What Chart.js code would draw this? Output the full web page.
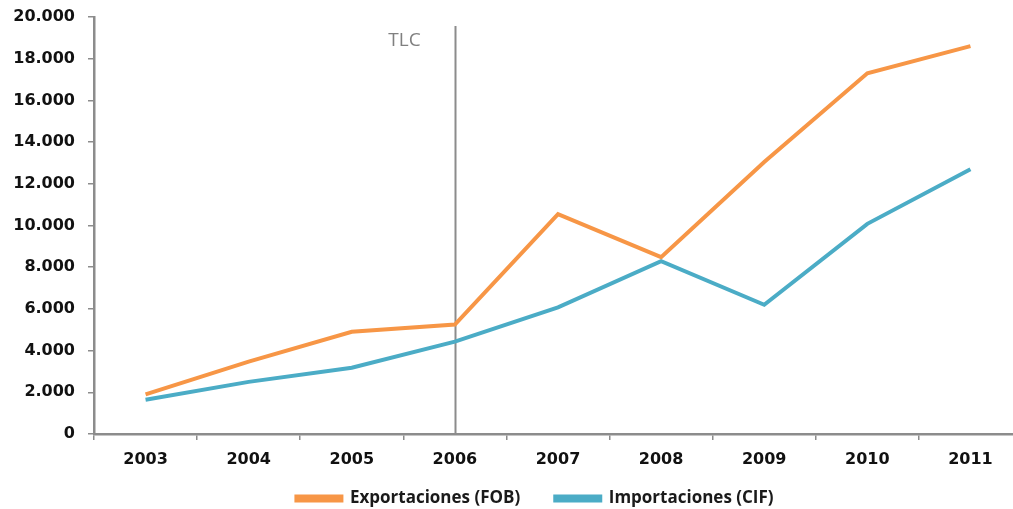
<!DOCTYPE html>
<html>
<head>
<meta charset="utf-8">
<script src="https://cdn.jsdelivr.net/npm/chart.js@4/dist/chart.umd.min.js"></script>
<style>
  html, body { margin: 0; padding: 0; background: #fff; overflow: hidden; }
  #wrap { width: 1022px; height: 538px; }
</style>
</head>
<body>
<div id="wrap"><canvas id="c" width="1022" height="538"></canvas></div>
<script>
const years = ['2003', '2004', '2005', '2006', '2007', '2008', '2009', '2010', '2011'];
const exportaciones = [1900, 3470, 4900, 5250, 10550, 8480, 13050, 17300, 18600];
const importaciones = [1640, 2500, 3180, 4430, 6070, 8290, 6200, 10080, 12700];
const markerYear = '2006';
const markerLabel = 'TLC';
const yMax = 20000;
const yStep = 2000;

function fmt(v) {
  return String(v).replace(/\B(?=(\d{3})+(?!\d))/g, '.');
}

const axisGray = '#8c8c8c';

const tlcPlugin = {
  id: 'tlc',
  afterLayout(chart) {
    const lg = chart.legend;
    if (lg) {
      lg.left += 24;
      lg.right += 24;
      lg.top -= 21;
      lg.bottom -= 21;
    }
  },
  beforeDatasetsDraw(chart) {
    const xs = chart.scales.x, ys = chart.scales.y;
    const x = Math.round(xs.getPixelForValue(years.indexOf(markerYear))) + 0.5;
    const ctx = chart.ctx;
    ctx.save();
    ctx.strokeStyle = '#8c8c8c';
    ctx.lineWidth = 2;
    ctx.beginPath();
    ctx.moveTo(x, ys.top + 9);
    ctx.lineTo(x, ys.bottom);
    ctx.stroke();
    ctx.fillStyle = '#808080';
    ctx.font = '19px "Open Sans"';
    ctx.textAlign = 'center';
    ctx.textBaseline = 'alphabetic';
    ctx.fillText(markerLabel, x - 51, ys.top + 29);
    ctx.restore();
  }
};

new Chart(document.getElementById('c'), {
  type: 'line',
  data: {
    labels: years,
    datasets: [
      {
        label: 'Exportaciones (FOB)',
        data: exportaciones,
        borderColor: '#f79646',
        backgroundColor: '#f79646',
        borderWidth: 4,
        pointRadius: 0,
        tension: 0
      },
      {
        label: 'Importaciones (CIF)',
        data: importaciones,
        borderColor: '#4bacc6',
        backgroundColor: '#4bacc6',
        borderWidth: 4,
        pointRadius: 0,
        tension: 0
      }
    ]
  },
  options: {
    responsive: false,
    animation: false,
    layout: { padding: { top: 17, left: 0, right: 0, bottom: 0 } },
    plugins: {
      legend: {
        position: 'bottom',
        labels: {
          boxWidth: 45,
          boxHeight: 4,
          padding: 35,
          color: '#1a1a1a',
          font: { family: '"Open Sans"', size: 17, weight: 'bold' }
        }
      },
      tooltip: { enabled: false }
    },
    scales: {
      x: {
        offset: true,
        grid: {
          offset: true,
          drawOnChartArea: false,
          drawTicks: true,
          tickLength: 6,
          color: axisGray,
          lineWidth: 1.5
        },
        border: { color: axisGray, width: 2.5 },
        ticks: {
          color: '#111',
          padding: 10,
          maxRotation: 0,
          font: { family: '"DejaVu Sans"', size: 16, weight: 'bold' }
        },
        afterFit(scale) { scale.height = 42; scale.paddingLeft = 0; scale.paddingRight = 0; }
      },
      y: {
        min: 0,
        max: yMax,
        grid: {
          drawOnChartArea: false,
          drawTicks: true,
          tickLength: 6,
          color: axisGray,
          lineWidth: 1.5
        },
        border: { color: axisGray, width: 2.5 },
        ticks: {
          stepSize: yStep,
          color: '#111',
          padding: 13,
          font: { family: '"DejaVu Sans"', size: 16, weight: 'bold' },
          callback: (v) => fmt(v)
        },
        afterFit(scale) { scale.width = 94; scale.paddingTop = 0; scale.paddingBottom = 0; }
      }
    }
  },
  plugins: [tlcPlugin]
});
</script>
</body>
</html>
